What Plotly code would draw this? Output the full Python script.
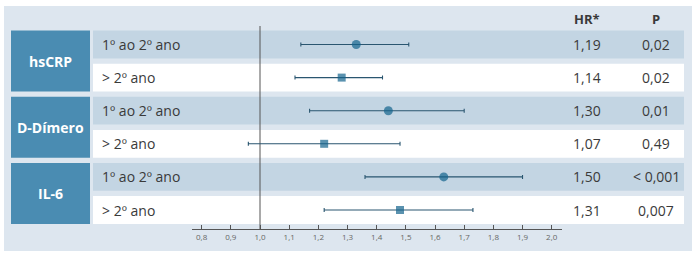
import plotly.graph_objects as go

# ---------------- data ----------------
groups = ["hsCRP", "D-Dímero", "IL-6"]
periods = ["1º ao 2º ano", "> 2º ano", "1º ao 2º ano", "> 2º ano", "1º ao 2º ano", "> 2º ano"]
point_pos = [1.33, 1.28, 1.44, 1.22, 1.63, 1.48]   # plotted marker position
ci_low = [1.14, 1.12, 1.17, 0.96, 1.36, 1.22]
ci_high = [1.51, 1.42, 1.70, 1.48, 1.90, 1.73]
hr_text = ["1,19", "1,14", "1,30", "1,07", "1,50", "1,31"]
p_text = ["0,02", "0,02", "0,01", "0,49", "< 0,001", "0,007"]
tick_vals = [0.8, 0.9, 1.0, 1.1, 1.2, 1.3, 1.4, 1.5, 1.6, 1.7, 1.8, 1.9, 2.0]
tick_text = ["0,8", "0,9", "1,0", "1,1", "1,2", "1,3", "1,4", "1,5", "1,6", "1,7", "1,8", "1,9", "2,0"]

W, H = 700, 259
PANEL = "#dde6ef"
BAND = "#c3d5e3"
BOX = "#4a8cb2"
MARK = "#14648d"
LINE = "#2a5670"
TXT = "#3a3a3a"
FONT = "Open Sans"

def px(x):
    return x / W

def py(y):
    return 1 - y / H

rows = list(range(len(periods)))
half = 0.42

fig = go.Figure()

symbols = ["circle" if i % 2 == 0 else "square" for i in rows]
sizes = [9 if i % 2 == 0 else 8 for i in rows]
fig.add_trace(go.Scatter(
    x=point_pos, y=rows, mode="markers",
    marker=dict(symbol=symbols, size=sizes, color=MARK, line=dict(width=0)),
    error_x=dict(type="data", symmetric=False,
                 array=[h - p for h, p in zip(ci_high, point_pos)],
                 arrayminus=[p - l for p, l in zip(point_pos, ci_low)],
                 thickness=1.1, width=2, color=LINE),
    hoverinfo="skip", showlegend=False, cliponaxis=False,
))

shapes = []
# outer panel
shapes.append(dict(type="rect", xref="paper", yref="paper", x0=px(4), x1=px(692),
                   y0=py(251), y1=py(6), fillcolor=PANEL, line=dict(width=0), layer="below"))
# row bands
for i in rows:
    shapes.append(dict(type="rect", xref="paper", yref="y", x0=px(93), x1=px(684),
                       y0=i - half, y1=i + half,
                       fillcolor=BAND if i % 2 == 0 else "white", line=dict(width=0), layer="below"))
# group boxes
for g in range(len(groups)):
    shapes.append(dict(type="rect", xref="paper", yref="y", x0=px(11), x1=px(90),
                       y0=2 * g - half, y1=2 * g + 1 + half,
                       fillcolor=BOX, line=dict(width=0), layer="below"))
# reference line at HR = 1
shapes.append(dict(type="line", xref="x", yref="paper", x0=1.0, x1=1.0,
                   y0=py(229), y1=py(26), line=dict(color="#555555", width=1), layer="below"))

annotations = []
for i in rows:
    annotations.append(dict(x=px(100), y=i, xref="paper", yref="y", text=periods[i],
                            showarrow=False, xanchor="left", yanchor="middle",
                            font=dict(family=FONT, size=14, color=TXT)))
    annotations.append(dict(x=px(587), y=i, xref="paper", yref="y", text=hr_text[i],
                            showarrow=False, xanchor="center", yanchor="middle",
                            font=dict(family=FONT, size=14, color=TXT)))
    annotations.append(dict(x=px(656), y=i, xref="paper", yref="y", text=p_text[i],
                            showarrow=False, xanchor="center", yanchor="middle",
                            font=dict(family=FONT, size=14, color=TXT)))
for g, name in enumerate(groups):
    annotations.append(dict(x=px(50.5), y=2 * g + 0.5, xref="paper", yref="y",
                            text="<b>%s</b>" % name, showarrow=False,
                            xanchor="center", yanchor="middle",
                            font=dict(family=FONT, size=14, color="white")))
annotations.append(dict(x=px(587), y=py(19), xref="paper", yref="paper", text="<b>HR*</b>",
                        showarrow=False, xanchor="center", yanchor="middle",
                        font=dict(family=FONT, size=13, color=TXT)))
annotations.append(dict(x=px(656), y=py(19), xref="paper", yref="paper", text="<b>P</b>",
                        showarrow=False, xanchor="center", yanchor="middle",
                        font=dict(family=FONT, size=13, color=TXT)))

# axis mapping: x value 1.0 at px 260, 2.0 at px 551.7
scale = 291.7
x0v = 1 + (192 - 260) / scale
x1v = 1 + (562 - 260) / scale
# y mapping: row i center at 44.5 + 33.1*i pixels
ytop = (0 - 44.5) / 33.1
ybot = (H - 44.5) / 33.1

fig.update_layout(
    width=W, height=H, margin=dict(l=0, r=0, t=0, b=0),
    paper_bgcolor="white", plot_bgcolor="rgba(0,0,0,0)",
    shapes=shapes, annotations=annotations,
    xaxis=dict(domain=[px(192), px(562)], range=[x0v, x1v], anchor="free", position=py(229),
               showgrid=False, zeroline=False, showline=True, linecolor="#555555", linewidth=1,
               ticks="inside", ticklen=4, tickcolor="#555555", tickwidth=1,
               tickvals=tick_vals, ticktext=tick_text,
               tickfont=dict(family=FONT, size=8, color="#666666"), fixedrange=True),
    yaxis=dict(domain=[0, 1], range=[ybot, ytop], visible=False, fixedrange=True),
    showlegend=False,
)

fig.write_html("out.html", config={"displayModeBar": False},
               post_script="document.body.style.margin='0px';document.body.style.padding='0px';")
